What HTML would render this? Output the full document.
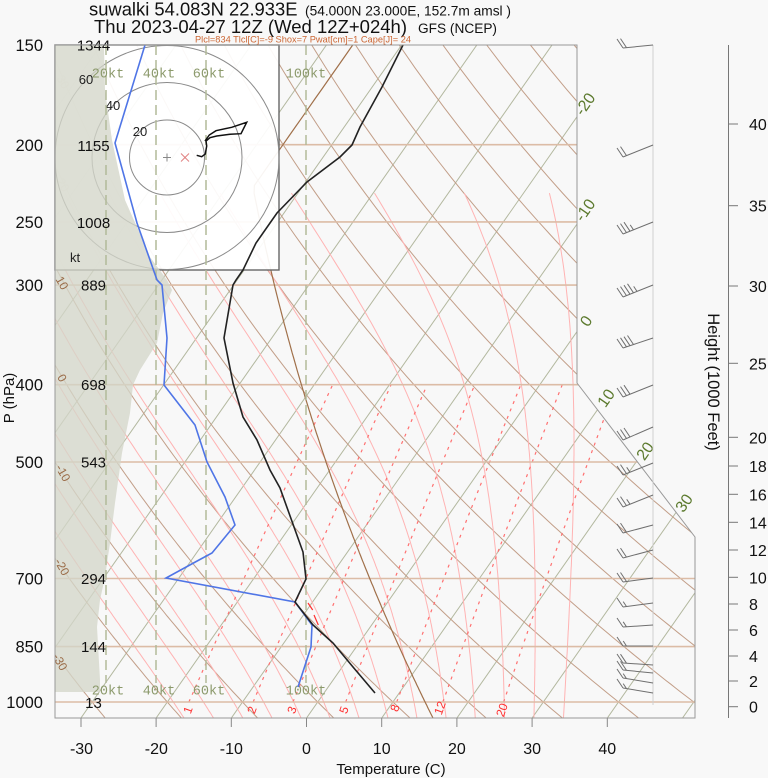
<!DOCTYPE html>
<html><head><meta charset="utf-8"><style>
html,body{margin:0;padding:0;background:#f8f8f8;}
svg{display:block;font-family:"Liberation Sans",Arial,sans-serif;}
</style></head><body>
<svg id="s" xmlns="http://www.w3.org/2000/svg" width="768" height="778" viewBox="0 0 768 778">
<defs>
<clipPath id="pc"><polygon points="55,45 577,45 577,383 695,537 695,718 55,718"/></clipPath>
</defs>
<rect x="0" y="0" width="768" height="778" fill="#f8f8f8"/>
<g clip-path="url(#pc)">
  <g id="iso"></g>
  <g id="dry"></g>
  <g id="moist"></g>
  <g id="mix"></g>
  <g id="bars" stroke="#dcbca6" stroke-width="1.6">
    <line x1="55" y1="144.7" x2="700" y2="144.7"/>
    <line x1="55" y1="221.9" x2="700" y2="221.9"/>
    <line x1="55" y1="285.1" x2="700" y2="285.1"/>
    <line x1="55" y1="384.7" x2="700" y2="384.7"/>
    <line x1="55" y1="462" x2="700" y2="462"/>
    <line x1="55" y1="578.5" x2="700" y2="578.5"/>
    <line x1="55" y1="646.6" x2="700" y2="646.6"/>
    <line x1="55" y1="702" x2="700" y2="702"/>
  </g>
  <g id="std"></g>
</g>
<!-- faint dry adiabat labels under hodograph -->
<g font-size="12" fill="#9a6b47" text-anchor="middle">
  <text transform="translate(63,82) rotate(60)" y="4">30</text>
  <text transform="translate(63,185) rotate(60)" y="4">20</text>
</g>
<!-- hodograph box -->
<rect x="55" y="45" width="224" height="225" fill="#ffffff" fill-opacity="0.93" stroke="#666" stroke-width="1.4"/>
<g fill="none" stroke="#8a8a8a" stroke-width="1">
  <circle cx="167" cy="157.5" r="37.5"/>
  <circle cx="167" cy="157.5" r="75"/>
  <circle cx="167" cy="157.5" r="112"/>
</g>
<!-- wind speed shading -->
<polygon fill="#d3d6c9" fill-opacity="0.78" clip-path="url(#pc)" points="55,45 104,45 105,90 112,140 125,200 137,227 150,257 167,280 172,290 163,313 157,343 140,370 133,385 130,413 122,453 115,503 110,543 105,577 100,600 97,627 100,680 100,692 55,692"/>
<!-- dry adiabat labels -->
<g font-size="12" fill="#9a6b47" text-anchor="middle">
  <text transform="translate(62,283) rotate(60)" y="4">10</text>
  <text transform="translate(62,378) rotate(60)" y="4">0</text>
  <text transform="translate(63,473) rotate(60)" y="4">-10</text>
  <text transform="translate(62,567) rotate(60)" y="4">-20</text>
  <text transform="translate(60,662) rotate(60)" y="4">-30</text>
</g>
<g font-size="13" fill="#222" text-anchor="middle">
  <text x="140" y="136">20</text>
  <text x="113" y="110">40</text>
  <text x="86" y="84">60</text>
  <text x="75" y="262">kt</text>
</g>
<g stroke="#888" stroke-width="1"><line x1="163" y1="157.5" x2="171" y2="157.5"/><line x1="167" y1="153.5" x2="167" y2="161.5"/></g>
<g stroke="#e08080" stroke-width="1"><line x1="181" y1="153.5" x2="189" y2="161.5"/><line x1="181" y1="161.5" x2="189" y2="153.5"/></g>
<!-- kt dashed lines -->
<g stroke="#b2ba99" stroke-width="1.5" stroke-dasharray="10,5">
  <line x1="106" y1="45" x2="106" y2="683"/>
  <line x1="156" y1="45" x2="156" y2="683"/>
  <line x1="206" y1="45" x2="206" y2="683"/>
  <line x1="306" y1="45" x2="306" y2="683"/>
</g>
<g font-family="Liberation Mono, monospace" font-size="13.5" fill="#8c9a6c" text-anchor="middle">
  <text x="108" y="77.5">20kt</text>
  <text x="159" y="77.5">40kt</text>
  <text x="209" y="77.5">60kt</text>
  <text x="306" y="77.5">100kt</text>
  <text x="108" y="694.5">20kt</text>
  <text x="159" y="694.5">40kt</text>
  <text x="209" y="694.5">60kt</text>
  <text x="306" y="694.5">100kt</text>
</g>
<!-- isotherm labels -->
<g font-size="16" fill="#5c7a2e" text-anchor="middle">
  <text transform="translate(585,104) rotate(-55)" y="5.5">-20</text>
  <text transform="translate(585,210) rotate(-55)" y="5.5">-10</text>
  <text transform="translate(586,321) rotate(-55)" y="5.5">0</text>
  <text transform="translate(606,398) rotate(-55)" y="5.5">10</text>
  <text transform="translate(645,451) rotate(-55)" y="5.5">20</text>
  <text transform="translate(684,503) rotate(-55)" y="5.5">30</text>
</g>
<!-- mixing ratio labels -->
<g font-size="12" fill="#ff3030" text-anchor="middle">
  <text transform="translate(188,710) rotate(-70)" y="4">1</text>
  <text transform="translate(252,710) rotate(-70)" y="4">2</text>
  <text transform="translate(292,710) rotate(-70)" y="4">3</text>
  <text transform="translate(344,710) rotate(-70)" y="4">5</text>
  <text transform="translate(395,708) rotate(-70)" y="4">8</text>
  <text transform="translate(440,708) rotate(-70)" y="4">12</text>
  <text transform="translate(502,710) rotate(-70)" y="4">20</text>
</g>
<!-- height labels inside -->
<g font-size="15" fill="#111" text-anchor="middle">
  <text x="93.5" y="50.5">1344</text>
  <text x="93.5" y="151">1155</text>
  <text x="93.5" y="228">1008</text>
  <text x="93.5" y="290.5">889</text>
  <text x="93.5" y="390">698</text>
  <text x="93.5" y="467.5">543</text>
  <text x="93.5" y="584">294</text>
  <text x="93.5" y="652">144</text>
  <text x="93.5" y="708">13</text>
</g>
<!-- LCL marks -->
<g stroke="#ff3030" stroke-width="1.2"><line x1="308" y1="603" x2="312.7" y2="610"/><line x1="314" y1="615" x2="318.3" y2="625"/></g>
<!-- profiles -->
<polyline fill="none" stroke="#4f75e6" stroke-width="1.6" points="145,45 115,143 137,223 157,280 162,285 167,338 164,385 195,425 207,462 225,497 235,525 212,553 199,560 166,578 295,602 312,625 311,647 298,687"/>
<polyline fill="none" stroke="#222" stroke-width="1.6" points="403,45 382,87 360,127 352,145 340,157 307,182 277,213 270,223 256,243 243,270 236,280 233,285 224,338 233,383 243,417 257,440 270,470 280,488 303,552 306,579 295,602 313,625 333,643 353,667 375,693"/>
<polyline fill="none" stroke="#111" stroke-width="1.5" points="196.7,155.3 201.7,156.7 205.3,154 206.7,146 206,141 210,137.7 216.7,136 230,134.3 241,133.7 246.7,122.3 231.7,127.3 216,130.7 209.3,135 205,141"/>
<!-- frame -->
<polygon fill="none" stroke="#999" stroke-width="1" points="55,45 577,45 577,383 695,537 695,718 55,718"/>
<!-- barbs -->
<line x1="653" y1="45" x2="653" y2="705" stroke="#cfcfcf" stroke-width="1"/>
<g id="barbs" stroke="#6f6f6f" stroke-width="1" fill="none"></g>
<!-- bottom axis -->
<g stroke="#888" stroke-width="1">
  <line x1="81" y1="718" x2="81" y2="727"/><line x1="156.1" y1="718" x2="156.1" y2="727"/>
  <line x1="231.3" y1="718" x2="231.3" y2="727"/><line x1="306.5" y1="718" x2="306.5" y2="727"/>
  <line x1="381.7" y1="718" x2="381.7" y2="727"/><line x1="456.9" y1="718" x2="456.9" y2="727"/>
  <line x1="532.1" y1="718" x2="532.1" y2="727"/><line x1="607.3" y1="718" x2="607.3" y2="727"/>
</g>
<g font-size="16" fill="#111" text-anchor="middle">
  <text x="81.5" y="754">-30</text><text x="156.3" y="754">-20</text><text x="231.3" y="754">-10</text>
  <text x="306.5" y="754">0</text><text x="381.7" y="754">10</text><text x="456.9" y="754">20</text>
  <text x="532.1" y="754">30</text><text x="607.3" y="754">40</text>
</g>
<text x="391" y="774" font-size="15" fill="#111" text-anchor="middle">Temperature (C)</text>
<!-- left axis -->
<g font-size="16.5" fill="#111" text-anchor="end">
  <text x="43" y="51">150</text><text x="43" y="151">200</text><text x="43" y="228">250</text>
  <text x="43" y="291">300</text><text x="43" y="390.5">400</text><text x="43" y="468">500</text>
  <text x="43" y="584.5">700</text><text x="43" y="652.5">850</text><text x="43" y="708">1000</text>
</g>
<text transform="translate(14,398) rotate(-90)" font-size="15" fill="#111" text-anchor="middle">P (hPa)</text>
<!-- right height axis -->
<line x1="728.5" y1="45" x2="728.5" y2="718" stroke="#777" stroke-width="1"/>
<g stroke="#777" stroke-width="1">
  <line x1="728.5" y1="124" x2="738" y2="124"/><line x1="728.5" y1="205.7" x2="738" y2="205.7"/>
  <line x1="728.5" y1="286" x2="738" y2="286"/><line x1="728.5" y1="363.3" x2="738" y2="363.3"/>
  <line x1="728.5" y1="437.3" x2="738" y2="437.3"/><line x1="728.5" y1="466" x2="738" y2="466"/>
  <line x1="728.5" y1="494.3" x2="738" y2="494.3"/><line x1="728.5" y1="522.3" x2="738" y2="522.3"/>
  <line x1="728.5" y1="550" x2="738" y2="550"/><line x1="728.5" y1="577.3" x2="738" y2="577.3"/>
  <line x1="728.5" y1="604" x2="738" y2="604"/><line x1="728.5" y1="630" x2="738" y2="630"/>
  <line x1="728.5" y1="656" x2="738" y2="656"/><line x1="728.5" y1="681" x2="738" y2="681"/>
  <line x1="728.5" y1="706.7" x2="738" y2="706.7"/>
</g>
<g font-size="16" fill="#111">
  <text x="749" y="130">40</text><text x="749" y="211.7">35</text><text x="749" y="292">30</text>
  <text x="749" y="369.3">25</text><text x="749" y="443.3">20</text><text x="749" y="472">18</text>
  <text x="749" y="500.3">16</text><text x="749" y="528.3">14</text><text x="749" y="556">12</text>
  <text x="749" y="583.3">10</text><text x="749" y="610">8</text><text x="749" y="636">6</text>
  <text x="749" y="662">4</text><text x="749" y="687">2</text><text x="749" y="712.7">0</text>
</g>
<text transform="translate(708,382) rotate(90)" font-size="16.5" fill="#111" text-anchor="middle">Height (1000 Feet)</text>
<!-- titles -->
<text x="89" y="15.5" font-size="18.5" fill="#111" textLength="208.5" lengthAdjust="spacingAndGlyphs">suwalki 54.083N 22.933E</text>
<text x="305" y="15.5" font-size="13.5" fill="#111" textLength="206" lengthAdjust="spacingAndGlyphs">(54.000N 23.000E, 152.7m amsl )</text>
<text x="94" y="33" font-size="18.5" fill="#111" textLength="313" lengthAdjust="spacingAndGlyphs">Thu 2023-04-27 12Z (Wed 12Z+024h)</text>
<text x="418" y="33" font-size="13.5" fill="#111" textLength="79" lengthAdjust="spacingAndGlyphs">GFS (NCEP)</text>
<text x="195" y="42.5" font-size="9.5" fill="#cc6633" textLength="216" lengthAdjust="spacingAndGlyphs">Plcl=834 Tlcl[C]=-9 Shox=7 Pwat[cm]=1 Cape[J]= 24</text>
</svg>
<script>
(function(){
var NS='http://www.w3.org/2000/svg';
function Y(p){return 702+346.3*Math.log(p/1000);}
function X(T,p){return 306.5+7.52*T+0.70*(718-Y(p));}
function pl(id,pts,st){var g=document.getElementById(id);var e=document.createElementNS(NS,'polyline');
 e.setAttribute('points',pts.map(function(q){return q[0].toFixed(1)+','+q[1].toFixed(1);}).join(' '));
 e.setAttribute('fill','none');for(var k in st){e.setAttribute(k,st[k]);}g.appendChild(e);}
var T,p,pts,i;
for(T=-140;T<=60;T+=10){pl('iso',[[X(T,1060),Y(1060)],[X(T,145),Y(145)]],{'stroke':'#b3b89f','stroke-width':'1'});}
for(var th=-30;th<=230;th+=10){pts=[];for(p=1060;p>=145;p-=10){T=(th+273.15)*Math.pow(p/1000,0.2857)-273.15;pts.push([X(T,p),Y(p)]);}
 pl('dry',pts,{'stroke':'#c29e88','stroke-width':'1'});}
function es(Tk){var t=Tk-273.15;return 6.112*Math.exp(17.67*t/(t+243.5));}
function dTdp(Tk,pp){var e=es(Tk);var rs=0.622*e/(pp-e);var Rd=287.04,cp=1005.7,L=2.501e6;
 return (Rd*Tk+L*rs)/(pp*(cp+L*L*rs*0.622/(Rd*Tk*Tk)));}
for(var tw=-19.2;tw<=33;tw+=4){var up=[],Tk=tw+273.15,k1,k2;
 for(p=1000;p>=230;p-=5){up.push([X(Tk-273.15,p),Y(p)]);k1=dTdp(Tk,p);k2=dTdp(Tk-2.5*k1,p-2.5);Tk-=5*k2;}
 var dn=[];Tk=tw+273.15;
 for(p=1000;p<1055;p+=5){k1=dTdp(Tk,p);k2=dTdp(Tk+2.5*k1,p+2.5);Tk+=5*k2;dn.push([X(Tk-273.15,p+5),Y(p+5)]);}
 pl('moist',dn.reverse().concat(up),{'stroke':'#ffb3b3','stroke-width':'1'});}
[1,2,3,5,8,12,20].forEach(function(w){pts=[];for(p=1000;p>=400;p-=10){var e=w*p/(622+w);var l=Math.log(e/6.112);var Td=243.5*l/(17.67-l);pts.push([X(Td,p),Y(p)]);}
 pl('mix',pts,{'stroke':'#ff7070','stroke-width':'1.2','stroke-dasharray':'3,5'});});
pts=[];for(p=1050;p>=148;p-=5){T=(p>226.32)?(288.15*Math.pow(p/1013.25,0.190263)-273.15):-56.5;pts.push([X(T,p),Y(p)]);}
pl('std',pts,{'stroke':'#a0704a','stroke-width':'1.2'});
var g=document.getElementById('barbs');
function ln(a,b,c,d){var e=document.createElementNS(NS,'line');e.setAttribute('x1',a.toFixed(1));e.setAttribute('y1',b.toFixed(1));e.setAttribute('x2',c.toFixed(1));e.setAttribute('y2',d.toFixed(1));g.appendChild(e);}
var barbs=[[45,3,2,0],[145,12,2,0],[222,12,3,1],[285,12,4,1],[338,10,4,0],[385,12,3,0],[427,13,3,0],[463,12,2,1],[495,12,2,1],[525,8,2,0],[550,8,2,0],[578,4,2,0],[603,4,1,1],[625,2,1,1],[646,0,1,1],[665,-2,2,0],[673,-3,2,0],[683,-5,1,1],[693,-5,1,1]];
barbs.forEach(function(b){var x0=653,y0=b[0],x1=623,y1=b[0]+b[1];ln(x0,y0,x1,y1);
 var ux=(x0-x1)/30,uy=(y0-y1)/30;
 for(i=0;i<b[2]+b[3];i++){var bx=x1+ux*3.5*i,by=y1+uy*3.5*i;var f=(i<b[2])?1:0.55;ln(bx,by,bx-6*f,by-9*f);}});
})();
</script>
</body></html>
